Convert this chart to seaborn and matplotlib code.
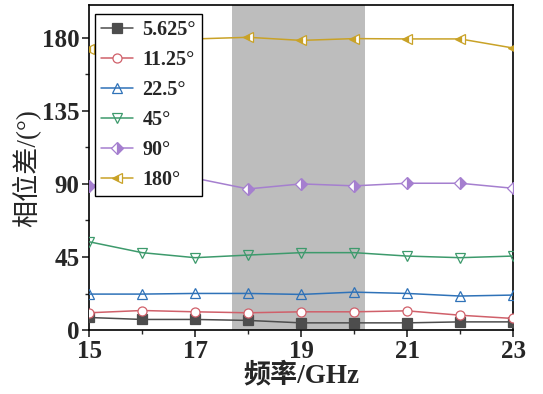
import matplotlib
matplotlib.use("Agg")
import matplotlib.pyplot as plt
import seaborn as sns
import pandas as pd
from matplotlib.ticker import MultipleLocator, FixedLocator

freq = [15, 16, 17, 18, 19, 20, 21, 22, 23]
s5625 = [7.8, 6.6, 6.6, 6.0, 4.5, 4.5, 4.5, 5.1, 5.1]
s1125 = [10.7, 12.1, 11.3, 10.7, 11.3, 11.3, 11.9, 9.2, 7.2]
s225 = [22.2, 22.2, 22.6, 22.6, 22.0, 23.4, 22.6, 21.0, 21.6]
s45 = [54.4, 47.7, 44.6, 46.2, 47.7, 47.7, 45.6, 44.6, 45.6]
s90 = [88.8, 94.5, 93.5, 86.9, 90.0, 88.8, 90.4, 90.4, 87.3]
s180 = [173.0, 180.2, 179.2, 180.2, 178.3, 179.4, 179.2, 179.2, 173.6]
labels = ["5.625°", "11.25°", "22.5°", "45°", "90°", "180°"]
xticks = [15, 17, 19, 21, 23]
band = (17.7, 20.2)

series = [s5625, s1125, s225, s45, s90, s180]
styles = [
    dict(color="#4d4d4d", marker="s", fillstyle="full", mfc="#4d4d4d", mec="#4d4d4d"),
    dict(color="#d0606a", marker="o", fillstyle="full", mfc="white", mec="#d0606a"),
    dict(color="#2f72b8", marker="^", fillstyle="none", mfc="none", mec="#2f72b8"),
    dict(color="#3d9a6c", marker="v", fillstyle="none", mfc="none", mec="#3d9a6c"),
    dict(color="#a57fcf", marker="D", fillstyle="right", mfc="#a57fcf", mec="#a57fcf"),
    dict(color="#c9a227", marker="<", fillstyle="left", mfc="#c9a227", mec="#c9a227"),
]

sns.set_style("ticks")
plt.rcParams['font.family'] = ['Liberation Serif', 'Noto Sans CJK SC']

fig = plt.figure(figsize=(5.43, 3.94), dpi=100)
ax = fig.add_axes([0.164, 0.162, 0.781, 0.825])

ax.axvspan(band[0], band[1], color="#bdbdbd", zorder=0, lw=0)

for vals, lab, st in zip(series, labels, styles):
    df = pd.DataFrame({"f": freq, "v": vals})
    sns.lineplot(data=df, x="f", y="v", ax=ax, color=st["color"], lw=1.1,
                 marker=st["marker"], markersize=6.5, label=lab,
                 markerfacecolor=st["mfc"], markeredgecolor=st["mec"],
                 fillstyle=st["fillstyle"], markerfacecoloralt="white",
                 markeredgewidth=0.9, zorder=3)

ax.set_xlim(15, 23)
ax.set_ylim(0, 200)
ax.xaxis.set_major_locator(FixedLocator(xticks))
ax.xaxis.set_minor_locator(MultipleLocator(1))
ax.yaxis.set_major_locator(MultipleLocator(45))
ax.yaxis.set_minor_locator(MultipleLocator(22.5))
ax.tick_params(axis="both", which="major", direction="out", length=5, width=1.2,
               labelsize=18, pad=2)
ax.tick_params(axis="both", which="minor", direction="out", length=3, width=1.0)
for lab in ax.get_xticklabels() + ax.get_yticklabels():
    lab.set_fontweight("bold")
for sp in ax.spines.values():
    sp.set_linewidth(1.2)
    sp.set_color("black")

ax.set_xlabel("频率/GHz", fontsize=19.5, fontweight="bold", labelpad=0,
              family=['Liberation Serif', 'Noto Sans CJK SC'])
ax.set_ylabel("相位差/(°)", fontsize=19.5, labelpad=1,
              family=['Liberation Serif', 'Noto Sans CJK SC'])

leg = ax.legend(loc="upper left", bbox_to_anchor=(0.005, 0.985), frameon=True,
                fancybox=False, edgecolor="black", framealpha=1,
                prop={"family": "Liberation Serif", "weight": "bold", "size": 14.5},
                handlelength=1.6, labelspacing=0.5, borderpad=0.3,
                handletextpad=0.45, borderaxespad=0.2)
leg.get_frame().set_linewidth(1.0)

fig.savefig("out.png", dpi=100)
